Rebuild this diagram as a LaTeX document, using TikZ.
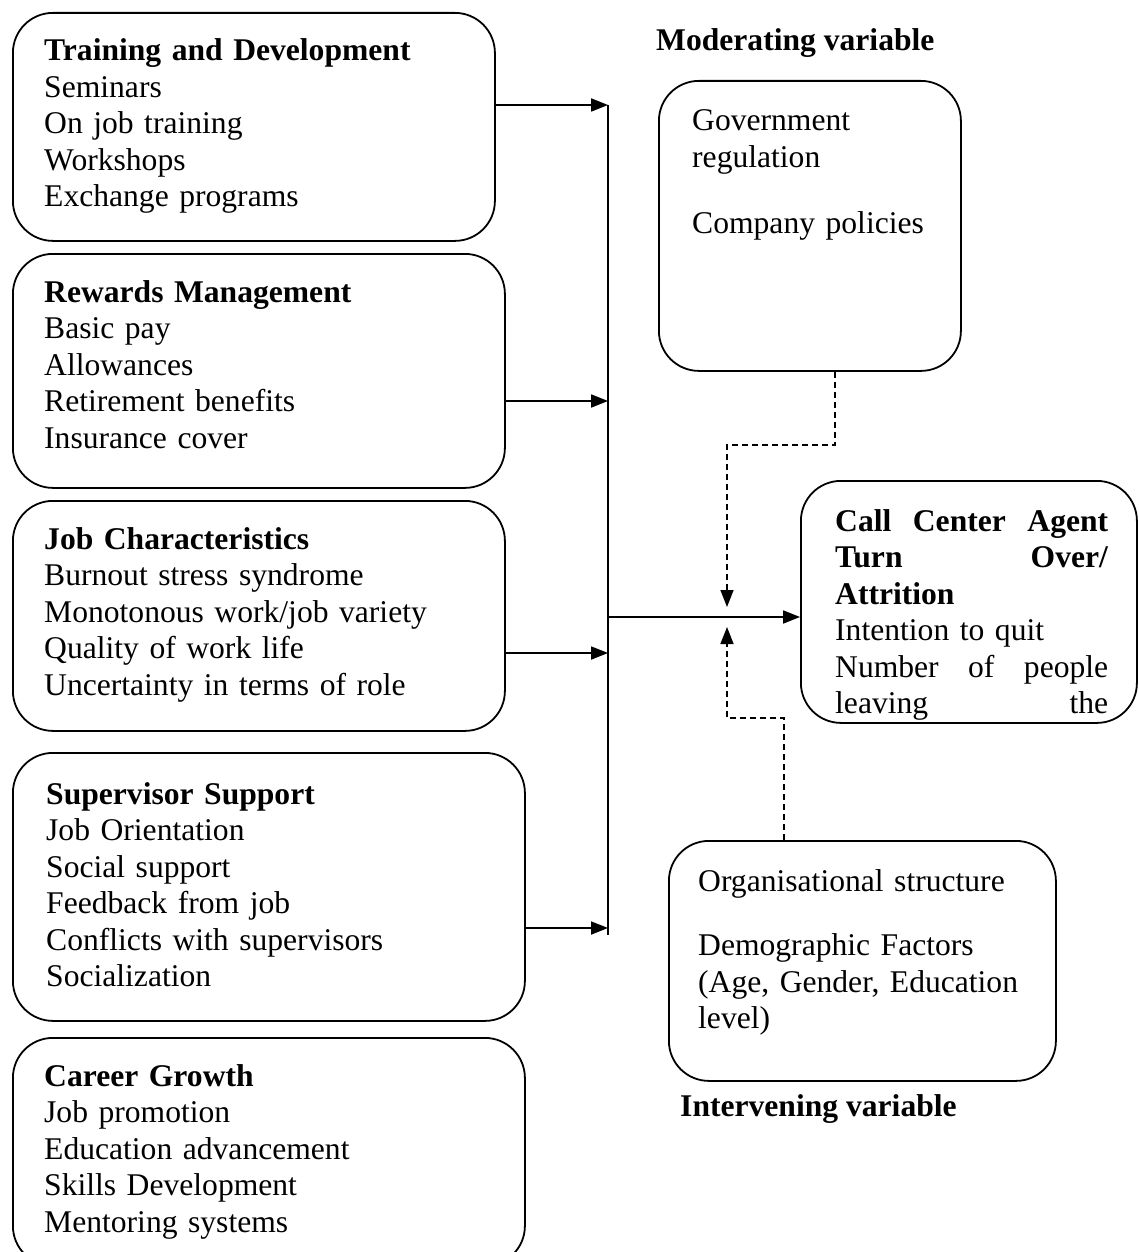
\documentclass[tikz,border=0pt]{standalone}
\usepackage{fontspec}
\setmainfont{Liberation Serif}
\usetikzlibrary{arrows.meta}
\begin{document}
\begin{tikzpicture}[x=1pt,y=-1pt,
  box/.style={draw, line width=1.8pt, rounded corners=40pt, anchor=north west, inner sep=0pt},
  txt/.style={anchor=base west, align=left, text width=440pt, inner sep=0pt, font=\fontsize{31.6}{36.5}\selectfont},
  lbl/.style={anchor=base west, inner sep=0pt, font=\fontsize{31.6}{36.5}\selectfont\bfseries},
  arr/.style={line width=1.8pt, -{Triangle[length=17pt,width=13pt]}},
  darr/.style={line width=1.6pt, dash pattern=on 6pt off 4pt, -{Triangle[length=17pt,width=13pt]}},
  busline/.style={line width=1.8pt}]
\path[use as bounding box, fill=white] (0,0) rectangle (1138,1252);

% boxes
\node[box, minimum width=482pt, minimum height=228pt] (td) at (12,12) {};
\node[box, minimum width=492pt, minimum height=234pt] (rm) at (12,253) {};
\node[box, minimum width=492pt, minimum height=230pt] (jc) at (12,500) {};
\node[box, minimum width=512pt, minimum height=268pt] (ss) at (12,752) {};
\node[box, minimum width=512pt, minimum height=228pt] (cg) at (12,1037) {};
\node[box, minimum width=302pt, minimum height=290pt] (mod) at (658,80) {};
\node[box, minimum width=336pt, minimum height=242pt] (call) at (800,480) {};
\node[box, minimum width=387pt, minimum height=240pt] (int) at (668,840) {};

% texts
\node[txt] (tdt) at (44,61) {\textbf{Training and Development}\\Seminars\\On job training\\Workshops\\Exchange programs};
\node[txt] (rmt) at (44,302) {\textbf{Rewards Management}\\Basic pay\\Allowances\\Retirement benefits\\Insurance cover};
\node[txt] (jct) at (44,549) {\textbf{Job Characteristics}\\Burnout stress syndrome\\Monotonous work/job variety\\Quality of work life\\Uncertainty in terms of role};
\node[txt] (sst) at (46,804) {\textbf{Supervisor Support}\\Job Orientation\\Social support\\Feedback from job\\Conflicts with supervisors\\Socialization};
\node[txt] (cgt) at (44,1086) {\textbf{Career Growth}\\Job promotion\\Education advancement\\Skills Development\\Mentoring systems};
\node[txt, text width=260pt] (modt) at (692,131) {Government\\regulation\\[30pt]Company policies};
\node[txt, text width=273pt] (callt) at (835,531) {\textbf{Call\hfill Center\hfill Agent}\\\textbf{Turn\hfill Over/}\\\textbf{Attrition}\\Intention to quit\\Number\hfill of\hfill people\\leaving\hfill the};
\node[txt, text width=340pt] (intt) at (698,891) {Organisational structure\\[28pt]Demographic Factors\\(Age, Gender, Education\\level)};
\node[lbl] (modl) at (656,51) {Moderating variable};
\node[lbl] (intl) at (680,1116) {Intervening variable};

% bus and connectors
\coordinate (b1) at (608,105);
\coordinate (b2) at (608,401);
\coordinate (b3) at (608,653);
\coordinate (b4) at (608,928);
\coordinate (bend) at (608,935);
\coordinate (bj) at (608,617);
\coordinate (j) at (727,617);
\coordinate (m1) at (835,445);
\coordinate (m2) at (727,445);
\coordinate (i1) at (784,718);
\coordinate (i2) at (727,718);

\draw[busline] (b1) -- (bend);
\draw[arr] (td.east |- b1) -- (b1);
\draw[arr] (rm.east |- b2) -- (b2);
\draw[arr] (jc.east |- b3) -- (b3);
\draw[arr] (ss.east |- b4) -- (b4);
\draw[arr] (bj) -- (call.west |- bj);
\draw[darr, shorten >=10pt] (mod.south -| m1) -- (m1) -- (m2) -- (j);
\draw[darr, shorten >=10pt] (int.north -| i1) -- (i1) -- (i2) -- (j);
\end{tikzpicture}
\end{document}
